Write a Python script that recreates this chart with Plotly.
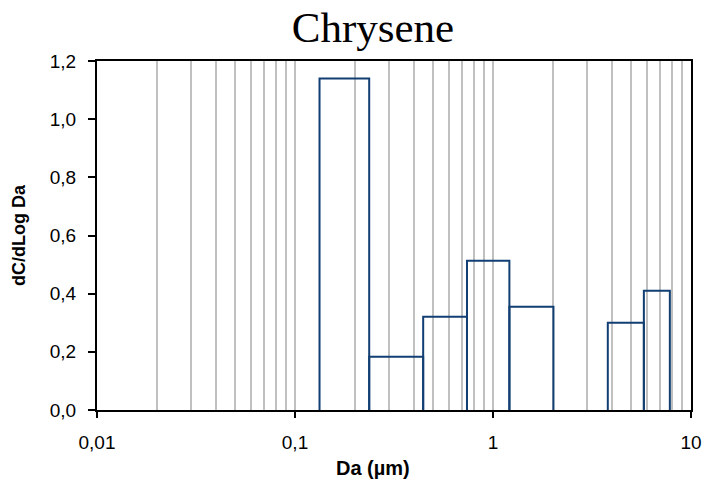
import plotly.graph_objects as go

# Size-bin edges (aerodynamic diameter, µm) and dC/dLogDa per stage
bin_lower = [0.133, 0.237, 0.444, 0.739, 1.21, 3.80, 5.78]
bin_upper = [0.237, 0.444, 0.739, 1.21, 2.02, 5.78, 7.82]
dc_dlogda = [1.14, 0.183, 0.321, 0.513, 0.355, 0.30, 0.41]

x_ticks = [0.01, 0.1, 1, 10]
x_ticktext = ["0,01", "0,1", "1", "10"]
y_ticks = [0.0, 0.2, 0.4, 0.6, 0.8, 1.0, 1.2]

# Outline each bin as an open rectangle
xs, ys = [], []
for lo, hi, v in zip(bin_lower, bin_upper, dc_dlogda):
    xs += [lo, lo, hi, hi, None]
    ys += [0, v, v, 0, None]

fig = go.Figure()
fig.add_trace(go.Scatter(
    x=xs, y=ys, mode="lines",
    line=dict(color="#123f73", width=2),
    hoverinfo="skip", showlegend=False,
))

minor_vals = [m * 10 ** e for e in (-2, -1, 0) for m in range(2, 10)]

fig.update_layout(
    width=708, height=483,
    margin=dict(l=97, r=17, t=61, b=73, autoexpand=False),
    paper_bgcolor="white", plot_bgcolor="white",
    separators=", ",
    title=dict(text="Chrysene", x=373 / 708, xanchor="center",
               y=1 - 27 / 483, yanchor="middle",
               font=dict(family="Liberation Serif", size=43, color="black")),
    font=dict(family="Liberation Sans", color="black"),
    annotations=[dict(
        text="<b>Da (µm)</b>", xref="paper", yref="paper",
        x=(373 - 97) / 594, y=(410 - 468) / 349,
        xanchor="center", yanchor="middle", showarrow=False,
        font=dict(size=20, color="black"),
    )],
)
fig.update_xaxes(
    type="log", range=[-2, 1], automargin=False,
    tickvals=x_ticks, ticktext=x_ticktext,
    ticks="outside", ticklen=6, tickwidth=1.5, tickcolor="black",
    tickfont=dict(size=19), ticklabelstandoff=8,
    showline=True, linecolor="black", linewidth=2, mirror=True,
    showgrid=True, gridcolor="#c0c0c0", gridwidth=1.5,
    minor=dict(tickvals=minor_vals, showgrid=True, gridcolor="#c0c0c0",
               gridwidth=1.5, ticks=""),
    zeroline=False,
)
fig.update_yaxes(
    range=[0, 1.2], automargin=False,
    tickvals=y_ticks, tickformat=".1f",
    ticks="outside", ticklen=7, tickwidth=1.5, tickcolor="black",
    tickfont=dict(size=19), ticklabelstandoff=8,
    showline=True, linecolor="black", linewidth=2, mirror=True,
    showgrid=False, zeroline=False,
    title=dict(text="<b>dC/dLog Da</b>", font=dict(size=18), standoff=19),
)

fig.write_html("out.html")
